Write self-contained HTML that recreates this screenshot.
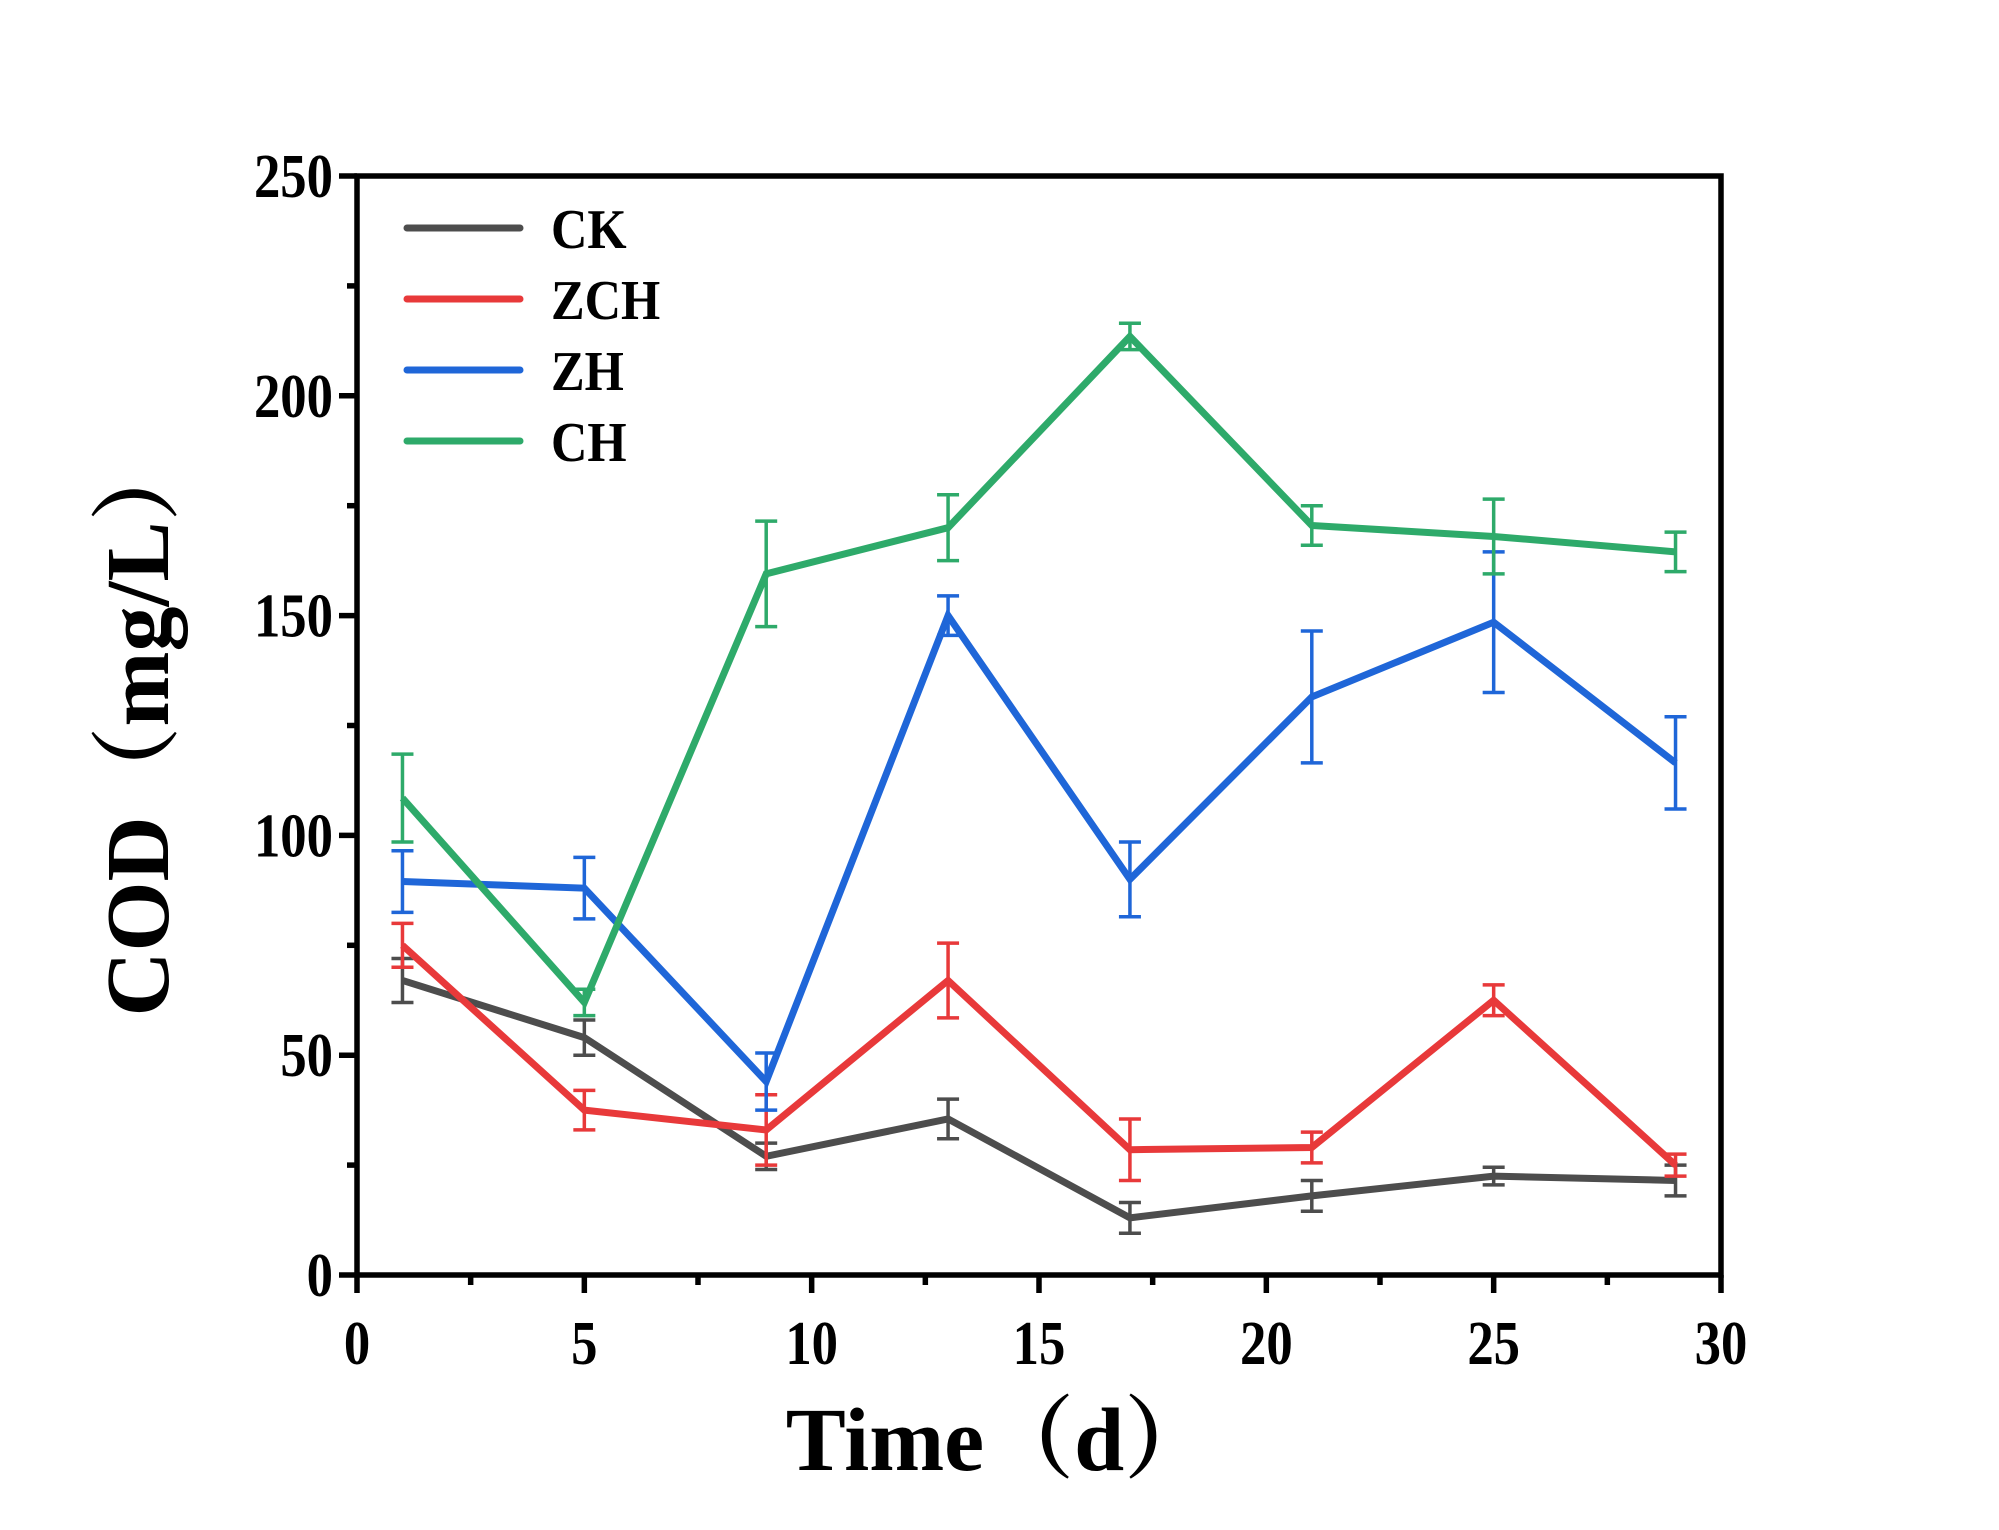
<!DOCTYPE html>
<html><head><meta charset="utf-8"><style>
html,body{margin:0;padding:0;background:#fff;}
svg{display:block;}
text{font-family:"Liberation Serif","Noto Serif CJK SC",serif;font-weight:bold;fill:#000;}
</style></head><body>
<svg id="chart" width="1999" height="1530" xmlns="http://www.w3.org/2000/svg"></svg>
<script>
const days=[1,5,9,13,17,21,25,29];
const ckVals=[67,54,27,35.5,13,18,22.5,21.5];
const ckErr=[5,4,3,4.5,3.5,3.5,2,3.5];
const zchVals=[75,37.5,33,67,28.5,29,62.5,25];
const zchErr=[5,4.5,8,8.5,7,3.5,3.5,2.5];
const zhVals=[89.5,88,44,150,90,131.5,148.5,116.5];
const zhErr=[7,7,6.5,4.5,8.5,15,16,10.5];
const chVals=[108.5,62,159.5,170,213.5,170.5,168,164.5];
const chErr=[10,3,12,7.5,3,4.5,8.5,4.5];
const seriesNames=["CK","ZCH","ZH","CH"];
const xTicks=[0,5,10,15,20,25,30];
const yTicks=[0,50,100,150,200,250];

const L=357,R=1721,T=176,B=1275;
const sx=v=>L+(v-0)/30*(R-L);
const sy=v=>B-(v-0)/250*(B-T);
const svg=document.getElementById('chart');
const NS='http://www.w3.org/2000/svg';
function mk(tag,attrs,parent){const e=document.createElementNS(NS,tag);for(const k in attrs)e.setAttribute(k,attrs[k]);(parent||svg).appendChild(e);return e;}

const series=[
 {name:"ck",vals:ckVals,err:ckErr,color:"#4d4d4d"},
 {name:"zch",vals:zchVals,err:zchErr,color:"#e8393a"},
 {name:"zh",vals:zhVals,err:zhErr,color:"#1f66d8"},
 {name:"ch",vals:chVals,err:chErr,color:"#2eaa6a"}
];
series.forEach(s=>{
  const g=mk('g',{});
  
  
  days.forEach((d,i)=>{
    const x=sx(d),y1=sy(s.vals[i]+s.err[i]),y2=sy(s.vals[i]-s.err[i]);
    const eb=mk('path',{d:`M${x},${y1}V${y2}M${x-11},${y1}H${x+11}M${x-11},${y2}H${x+11}`,stroke:s.color,'stroke-width':3.5,fill:'none'},g);
    
    
  });
  const pl=mk('polyline',{points:days.map((d,i)=>sx(d)+','+sy(s.vals[i])).join(' '),stroke:s.color,'stroke-width':7,fill:'none','stroke-linejoin':'miter'},g);
  
  
});

const fr=mk('rect',{x:L,y:T,width:R-L,height:B-T,fill:'none',stroke:'#000','stroke-width':5.5});



xTicks.forEach(v=>{
  const x=sx(v);
  mk('line',{x1:x,x2:x,y1:B,y2:B+18,stroke:'#000','stroke-width':5.5});
  const t=mk('text',{x:x,y:B+89,'text-anchor':'middle','font-size':62,transform:`translate(${x},0) scale(0.85,1) translate(${-x},0)`});
  t.textContent=v;
  
  
});
for(let v=2.5;v<30;v+=5){const x=sx(v);mk('line',{x1:x,x2:x,y1:B,y2:B+10,stroke:'#000','stroke-width':5.5});}
yTicks.forEach(v=>{
  const y=sy(v);
  mk('line',{x1:L,x2:L-18,y1:y,y2:y,stroke:'#000','stroke-width':5.5});
  const ax=L-24;
  const t=mk('text',{x:ax,y:y+21,'text-anchor':'end','font-size':62,transform:`translate(${ax},0) scale(0.85,1) translate(${-ax},0)`});
  t.textContent=v;
  
  
});
for(let v=25;v<250;v+=50){const y=sy(v);mk('line',{x1:L,x2:L-10,y1:y,y2:y,stroke:'#000','stroke-width':5.5});}

const xt=mk('text',{x:1000,y:1470,'text-anchor':'middle','font-size':90});
xt.textContent='Time（d）';


const yt=mk('text',{x:0,y:0,'text-anchor':'middle','font-size':90,transform:'translate(168,724) rotate(-90)'});
yt.textContent='COD（mg/L）';



const legY=[228,299,370,441];
series.forEach((s,i)=>{
  const g=mk('g',{});
  
  
  mk('line',{x1:407,x2:520,y1:legY[i],y2:legY[i],stroke:s.color,'stroke-width':7,'stroke-linecap':'round'},g);
  const t=mk('text',{x:551,y:legY[i]+20,'font-size':56,transform:`translate(551,0) scale(0.9,1) translate(-551,0)`},g);
  t.textContent=seriesNames[i];
});
</script>
</body></html>
